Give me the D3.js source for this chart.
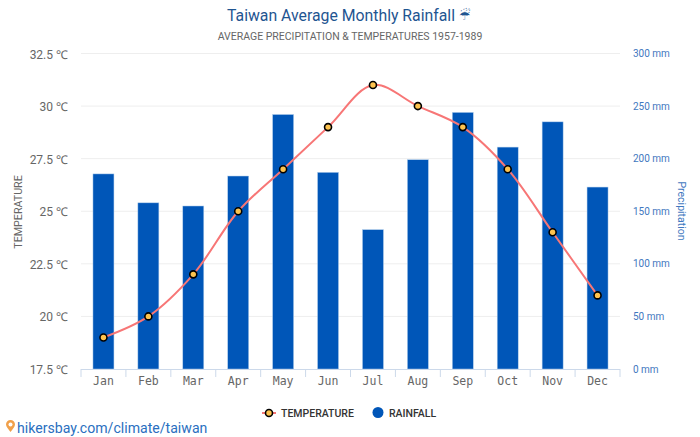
<!DOCTYPE html>
<html>
<head>
<meta charset="utf-8">
<script src="https://cdnjs.cloudflare.com/ajax/libs/d3/7.8.5/d3.min.js"></script>
<style>
html, body { margin: 0; padding: 0; background: #fff; }
text { font-family: Roboto, sans-serif; }
</style>
</head>
<body>
<svg id="chart" width="700" height="437"></svg>
<script>
var months = ['Jan', 'Feb', 'Mar', 'Apr', 'May', 'Jun', 'Jul', 'Aug', 'Sep', 'Oct', 'Nov', 'Dec'];
var temperature = [19, 20, 22, 25, 27, 29, 31, 30, 29, 27, 24, 21];
var rainfall = [185.5, 158, 155, 183.5, 242, 187, 132.5, 199, 244, 211, 235, 173];
var tempTicks = [17.5, 20, 22.5, 25, 27.5, 30, 32.5];
var rainTicks = [0, 50, 100, 150, 200, 250, 300];

var svg = d3.select('#chart');
var left = 81, right = 620, top_ = 53.5, bottom = 369;

var x = d3.scaleBand().domain(months).range([left, right]);
var yTemp = d3.scaleLinear().domain([17.5, 32.5]).range([bottom, top_]);
var yRain = d3.scaleLinear().domain([0, 300]).range([bottom, top_]);

// title
svg.append('text').attr('x', 227).attr('y', 21)
    .attr('font-size', 15.8).attr('fill', '#1f5591').text('Taiwan Average Monthly Rainfall');
svg.append('text').attr('x', 459).attr('y', 20)
    .attr('font-size', 13).attr('fill', '#1f5591').style('font-family', 'DejaVu Sans').text('☔');
svg.append('text').attr('x', 350).attr('y', 40).attr('text-anchor', 'middle')
    .attr('font-size', 10.5).attr('fill', '#666').text('AVERAGE PRECIPITATION & TEMPERATURES 1957-1989');

// grid
svg.append('g').selectAll('line').data(tempTicks.slice(1)).enter().append('line')
    .attr('x1', left).attr('x2', right)
    .attr('y1', function(d) { return yTemp(d); }).attr('y2', function(d) { return yTemp(d); })
    .attr('stroke', '#eee').attr('stroke-width', 1);

// left axis labels
svg.append('g').selectAll('text').data(tempTicks).enter().append('text')
    .attr('x', 68).attr('y', function(d) { return yTemp(d) + 5; })
    .attr('text-anchor', 'end').attr('font-size', 12).attr('fill', '#666')
    .text(function(d) { return d + ' ℃'; });

// right axis labels
svg.append('g').selectAll('text').data(rainTicks).enter().append('text')
    .attr('x', 633).attr('y', function(d) { return yRain(d) + 3.5; })
    .attr('font-size', 10).attr('fill', '#3f78c0')
    .text(function(d) { return d + ' mm'; });

svg.append('text').attr('transform', 'translate(22,212) rotate(-90)').attr('text-anchor', 'middle')
    .attr('font-size', 10.7).attr('fill', '#666').text('TEMPERATURE');
svg.append('text').attr('transform', 'translate(678,211) rotate(90)').attr('text-anchor', 'middle')
    .attr('font-size', 10.5).attr('fill', '#3f78c0').text('Precipitation');

// bars
svg.append('g').selectAll('rect').data(rainfall).enter().append('rect')
    .attr('x', function(d, i) { return x(months[i]) + x.bandwidth() / 2 - 10.5; })
    .attr('width', 21)
    .attr('y', function(d) { return yRain(d); })
    .attr('height', function(d) { return bottom - yRain(d); })
    .attr('fill', '#0056b8').attr('stroke', '#b3cfec').attr('stroke-width', 0.5);

// x axis
var xAxis = svg.append('g').attr('transform', 'translate(0,' + bottom + ')')
    .call(d3.axisBottom(x).tickSize(0).tickPadding(8));
xAxis.select('.domain').remove();
xAxis.selectAll('text').attr('font-size', 11.5).attr('fill', '#666').style('font-family', 'DejaVu Sans Mono');
svg.append('line').attr('x1', left).attr('x2', right).attr('y1', bottom + 0.5).attr('y2', bottom + 0.5)
    .attr('stroke', '#ccd9ea');
svg.append('g').selectAll('line').data(d3.range(13)).enter().append('line')
    .attr('x1', function(d) { return left + d * x.step(); })
    .attr('x2', function(d) { return left + d * x.step(); })
    .attr('y1', bottom).attr('y2', bottom + 8).attr('stroke', '#ccd9ea');

// temperature line
var line = d3.line()
    .x(function(d, i) { return x(months[i]) + x.bandwidth() / 2; })
    .y(function(d) { return yTemp(d); })
    .curve(d3.curveCatmullRom.alpha(0.5));
svg.append('path').datum(temperature).attr('d', line)
    .attr('fill', 'none').attr('stroke', '#f77676').attr('stroke-width', 2);
svg.append('g').selectAll('circle').data(temperature).enter().append('circle')
    .attr('cx', function(d, i) { return x(months[i]) + x.bandwidth() / 2; })
    .attr('cy', function(d) { return yTemp(d); })
    .attr('r', 3.5).attr('fill', '#fdc34f').attr('stroke', '#000').attr('stroke-width', 1.6);

// legend
svg.append('line').attr('x1', 262).attr('x2', 276).attr('y1', 413).attr('y2', 413)
    .attr('stroke', '#f77676').attr('stroke-width', 2);
svg.append('circle').attr('cx', 269).attr('cy', 413).attr('r', 3.5)
    .attr('fill', '#fdc34f').attr('stroke', '#000').attr('stroke-width', 1.6);
svg.append('text').attr('x', 281).attr('y', 417).attr('font-size', 10.5).attr('font-weight', 500)
    .attr('fill', '#333').text('TEMPERATURE');
svg.append('circle').attr('cx', 378).attr('cy', 412.5).attr('r', 5.5).attr('fill', '#0056b8');
svg.append('text').attr('x', 389).attr('y', 417).attr('font-size', 10.5).attr('font-weight', 500)
    .attr('fill', '#333').text('RAINFALL');

// source link with pin
var pin = svg.append('g').attr('transform', 'translate(10.5,427)');
pin.append('path').attr('d', 'M0,5 C-2,2 -4.5,0 -4.5,-2.5 A4.5,4.5 0 1 1 4.5,-2.5 C4.5,0 2,2 0,5 Z').attr('fill', '#f0a04b');
pin.append('circle').attr('cy', -2.5).attr('r', 2).attr('fill', '#fff');
svg.append('text').attr('x', 17).attr('y', 433).attr('font-size', 14.1).attr('fill', '#2a6fc0')
    .text('hikersbay.com/climate/taiwan');
</script>
</body>
</html>
